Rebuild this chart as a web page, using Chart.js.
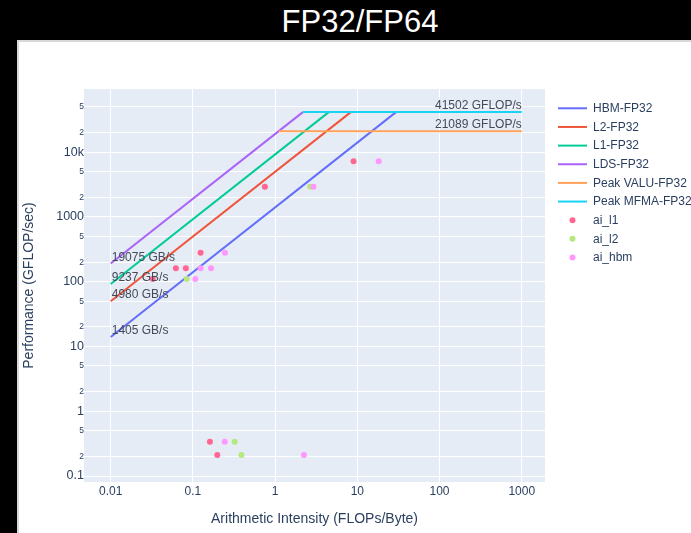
<!DOCTYPE html>
<html>
<head>
<meta charset="utf-8">
<script src="https://cdn.jsdelivr.net/npm/chart.js@4.4.1/dist/chart.umd.min.js"></script>
<style>
  body{margin:0;background:#000;width:691px;height:533px;overflow:hidden;position:relative;font-family:"Liberation Sans",Arial,sans-serif;}
  #title{position:absolute;left:0;width:720px;top:6px;text-align:center;color:#fff;font-size:31px;line-height:31px;}
  #panel{position:absolute;left:17px;top:40px;width:720px;height:520px;background:#fff;border:2px solid #d8d8d8;box-sizing:border-box;}
  #wrap{position:absolute;left:0;top:0;width:691px;height:533px;}
</style>
</head>
<body>
<div id="title">FP32/FP64</div>
<div id="panel"></div>
<div id="wrap"><canvas id="roof" width="691" height="533"></canvas></div>
<script>
// roofline values
var roofNames=['HBM-FP32','L2-FP32','L1-FP32','LDS-FP32'];
var roofBw=[1405,4980,9237,19075];          // GB/s, y at AI=0.01 is bw/100
var roofStartX=[0.01,0.01,0.01,0.01];
var roofStartY=[14.05,49.8,92.37,190.75];
var roofEndX=[29.54,8.334,4.493,2.176];
var roofEndY=[41502,41502,41502,41502];

var peakNames=['Peak VALU-FP32','Peak MFMA-FP32'];
var peakVal=[21089,41502];
var peakStartX=[1.106,2.176];
var peakEndX=[1000,1000];

var colors=['#636efa','#EF553B','#00cc96','#ab63fa','#FFA15A','#19d3f3','#FF6692','#B6E880','#FF97FF'];

// kernel points (AI, GFLOP/s)
var l1X=[9.0,0.75,0.124,0.062,0.082,0.0325,0.161,0.198];
var l1Y=[7260,2915,279,161,161,110,0.338,0.211];
var l2X=[2.67,0.084,0.322,0.389];
var l2Y=[2915,110,0.338,0.211];
var hbmX=[18.2,2.93,0.245,0.124,0.166,0.107,0.244,2.24];
var hbmY=[7260,2915,279,161,161,110,0.338,0.211];

var xTicks=[0.01,0.1,1,10,100,1000];
var yTicks=[0.1,0.2,0.5,1,2,5,10,20,50,100,200,500,1000,2000,5000,10000,20000,50000];

function pts(xs,ys){
  var out=[];
  for(var i=0;i<xs.length;i++) out.push({x:xs[i],y:ys[i]});
  return out;
}
function isDecade(v){
  var l=Math.log10(v);
  return Math.abs(l-Math.round(l))<1e-6;
}

var datasets=[];
for(var i=0;i<roofNames.length;i++){
  datasets.push({label:roofNames[i],data:[{x:roofStartX[i],y:roofStartY[i]},{x:roofEndX[i],y:roofEndY[i]}],
    showLine:true,borderColor:colors[i],backgroundColor:colors[i],borderWidth:2,pointRadius:0,order:-i});
}
for(var j=0;j<peakNames.length;j++){
  datasets.push({label:peakNames[j],data:[{x:peakStartX[j],y:peakVal[j]},{x:peakEndX[j],y:peakVal[j]}],
    showLine:true,borderColor:colors[4+j],backgroundColor:colors[4+j],borderWidth:2,pointRadius:0,order:-4-j});
}
var scat=[['ai_l1',l1X,l1Y],['ai_l2',l2X,l2Y],['ai_hbm',hbmX,hbmY]];
scat.forEach(function(s,k){
  datasets.push({label:s[0],data:pts(s[1],s[2]),showLine:false,pointRadius:3,pointBorderWidth:0,
    pointBackgroundColor:colors[6+k],backgroundColor:colors[6+k],borderColor:colors[6+k],order:-6-k});
});

var plotBg={
  id:'plotBg',
  beforeDraw:function(chart){
    var a=chart.chartArea,c=chart.ctx;
    c.save();
    c.fillStyle='#e5ecf6';
    c.fillRect(a.left,a.top,a.right-a.left,a.bottom-a.top);
    c.restore();
  }
};

// bandwidth / peak text next to the roofs
var roofText={
  id:'roofText',
  afterDatasetsDraw:function(chart){
    var c=chart.ctx,xs=chart.scales.x,ys=chart.scales.y;
    c.save();
    c.font='12px "Liberation Sans", Arial, sans-serif';
    c.fillStyle='#444a58';
    c.textBaseline='alphabetic';
    c.textAlign='left';
    for(var i=0;i<roofBw.length;i++){
      c.fillText(roofBw[i]+' GB/s',xs.getPixelForValue(roofStartX[i])+1,ys.getPixelForValue(roofStartY[i])-3);
    }
    c.textAlign='right';
    for(var j=peakVal.length-1;j>=0;j--){
      c.fillText(peakVal[j]+' GFLOP/s',xs.getPixelForValue(peakEndX[j]),ys.getPixelForValue(peakVal[j])-3);
    }
    c.restore();
  }
};

// plotly-like legend on the right
var sideLegend={
  id:'sideLegend',
  afterDraw:function(chart){
    var c=chart.ctx;
    c.save();
    c.font='12px "Liberation Sans", Arial, sans-serif';
    c.textBaseline='middle';
    c.textAlign='left';
    chart.data.datasets.forEach(function(d,i){
      var y=108.3+i*18.65;
      c.strokeStyle=d.borderColor;
      c.fillStyle=d.borderColor;
      if(d.showLine){
        c.lineWidth=2;
        c.beginPath();c.moveTo(558,y);c.lineTo(587,y);c.stroke();
      }else{
        c.beginPath();c.arc(572.5,y,3,0,Math.PI*2);c.fill();
      }
      c.fillStyle='#2a3f5f';
      c.fillText(d.label,593,y+0.5);
    });
    c.restore();
  }
};

var tickColor='#2a3f5f';
var fam='"Liberation Sans", Arial, sans-serif';

new Chart(document.getElementById('roof'),{
  type:'scatter',
  data:{datasets:datasets},
  plugins:[plotBg,roofText,sideLegend],
  options:{
    responsive:false,
    animation:false,
    devicePixelRatio:1,
    layout:{padding:{left:17,top:89,right:146,bottom:3}},
    plugins:{legend:{display:false},tooltip:{enabled:false}},
    scales:{
      x:{
        type:'logarithmic',
        min:Math.pow(10,-2.325),
        max:Math.pow(10,3.283),
        afterBuildTicks:function(s){s.ticks=xTicks.map(function(v){return {value:v};});},
        afterFit:function(s){s.height=48;},
        ticks:{color:tickColor,font:{family:fam,size:12},padding:2,maxRotation:0,autoSkip:false,
          callback:function(v){return String(v);}},
        grid:{color:'#ffffff',lineWidth:1,drawTicks:false},
        border:{display:false},
        title:{display:true,text:'Arithmetic Intensity (FLOPs/Byte)',color:tickColor,font:{family:fam,size:14},padding:{top:4,bottom:2}}
      },
      y:{
        type:'logarithmic',
        min:Math.pow(10,-1.092),
        max:Math.pow(10,4.975),
        afterBuildTicks:function(s){s.ticks=yTicks.map(function(v){return {value:v};});},
        afterFit:function(s){s.width=67;},
        ticks:{color:tickColor,padding:0,autoSkip:false,
          font:function(ctx){
            var v=ctx.tick?ctx.tick.value:1;
            return {family:fam,size:isDecade(v)?12.5:8.5};
          },
          callback:function(v){
            if(!isDecade(v)) return String(Math.round(v/Math.pow(10,Math.floor(Math.log10(v)+1e-9))));
            if(v>=10000) return (v/1000)+'k';
            return String(v);
          }},
        grid:{color:'#ffffff',lineWidth:1,drawTicks:false},
        border:{display:false},
        title:{display:true,text:'Performance (GFLOP/sec)',color:tickColor,font:{family:fam,size:14},padding:{top:4,bottom:4}}
      }
    }
  }
});
</script>
</body>
</html>
